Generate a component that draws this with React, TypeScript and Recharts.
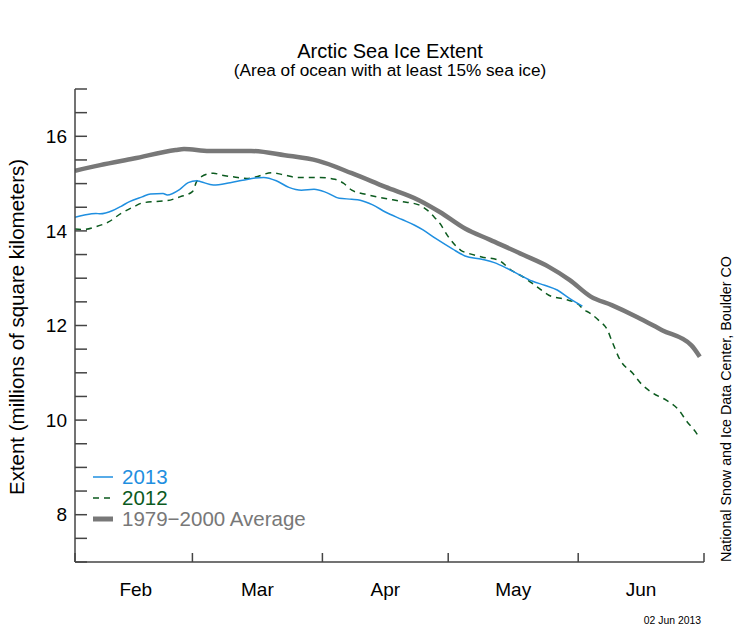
import { LineChart, Line, XAxis, YAxis, Legend, Customized } from "recharts";

// day 0 = 1 Feb
const monthNames = ["Feb", "Mar", "Apr", "May", "Jun"];
const monthStarts = [0, 28, 59, 89, 120, 150];
const monthMids = [14.5, 43.5, 74, 104.5, 135];

const yTicks = [7, 7.5, 8, 8.5, 9, 9.5, 10, 10.5, 11, 11.5, 12, 12.5, 13, 13.5, 14, 14.5, 15, 15.5, 16, 16.5, 17];
const yLabelTicks = [8, 10, 12, 14, 16];

const avgDays = [0, 6, 14, 24, 26, 32, 42, 50, 58, 66, 74, 82, 87, 93, 99, 107, 113, 118, 123, 128, 134, 140, 147, 149];
const avgExtent = [15.27, 15.39, 15.53, 15.71, 15.73, 15.69, 15.69, 15.6, 15.48, 15.22, 14.93, 14.65, 14.4, 14.05, 13.81, 13.49, 13.24, 12.96, 12.61, 12.43, 12.18, 11.9, 11.58, 11.34];

const days2012 = [0, 2, 5, 8, 11, 14, 16, 19, 22, 25, 28, 29, 30, 33, 35, 38, 41, 43, 47, 50, 53, 58, 62, 64, 66, 69, 72, 75, 78, 82, 84, 86, 87, 89, 92, 94, 97, 101, 104, 107, 110, 113, 117, 120, 121, 123, 125, 127, 128, 130, 133, 135, 138, 141, 144, 146, 148, 149];
const extent2012 = [14.04, 14.03, 14.09, 14.19, 14.37, 14.51, 14.59, 14.62, 14.64, 14.72, 14.83, 15.04, 15.14, 15.22, 15.18, 15.14, 15.11, 15.14, 15.23, 15.18, 15.13, 15.13, 15.09, 15.01, 14.86, 14.78, 14.72, 14.67, 14.62, 14.55, 14.44, 14.26, 14.16, 13.88, 13.59, 13.52, 13.45, 13.38, 13.17, 13.02, 12.83, 12.64, 12.55, 12.45, 12.36, 12.25, 12.1, 11.9, 11.68, 11.27, 10.99, 10.77, 10.56, 10.42, 10.21, 9.96, 9.75, 9.61];

const days2013 = [0, 2, 5, 6, 9, 11, 13, 16, 18, 21, 22, 25, 27, 29, 30, 33, 37, 40, 43, 45, 48, 51, 54, 57, 60, 63, 66, 68, 71, 74, 78, 81, 83, 86, 90, 93, 97, 100, 103, 106, 109, 112, 115, 118, 121];
const extent2013 = [14.29, 14.33, 14.37, 14.36, 14.43, 14.52, 14.62, 14.72, 14.78, 14.79, 14.76, 14.88, 15.02, 15.06, 15.04, 14.97, 15.02, 15.07, 15.12, 15.13, 15.06, 14.92, 14.86, 14.88, 14.81, 14.69, 14.67, 14.65, 14.55, 14.4, 14.24, 14.12, 14.02, 13.84, 13.62, 13.47, 13.4, 13.33, 13.21, 13.07, 12.94, 12.85, 12.75, 12.57, 12.41];

const toPoints = (days: number[], vals: number[]) => days.map((d, i) => ({ day: d, value: vals[i] }));

const FONT = "'Liberation Sans', Arial, Helvetica, sans-serif";
const AXIS = "#444";

const series = [
  { name: "2013", color: "#1f8fe0", width: 1.5, dash: undefined as string | undefined },
  { name: "2012", color: "#0b5a1e", width: 1.5, dash: "6 5" },
  { name: "1979\u22122000 Average", color: "#787878", width: 4.5, dash: undefined as string | undefined },
];

function LegendBox() {
  return (
    <div style={{ fontFamily: FONT, fontSize: 20.5, lineHeight: "21px" }}>
      {series.map((s) => (
        <div key={s.name} style={{ display: "flex", alignItems: "center", color: s.color }}>
          <svg width={30} height={21}>
            <line x1={1} x2={21} y1={11} y2={11} stroke={s.color} strokeWidth={s.width === 4.5 ? 5 : 1.5} strokeDasharray={s.dash} />
          </svg>
          <span>{s.name}</span>
        </div>
      ))}
    </div>
  );
}

function Texts() {
  return (
    <g fontFamily={FONT}>
      <text x={390} y={58} textAnchor="middle" fontSize={20} fill="#000">Arctic Sea Ice Extent</text>
      <text x={390} y={76} textAnchor="middle" fontSize={17.2} fill="#000">(Area of ocean with at least 15% sea ice)</text>
      <text x={0} y={0} transform="translate(24,327) rotate(-90)" textAnchor="middle" fontSize={20.5} fill="#000">
        Extent (millions of square kilometers)
      </text>
      <text x={0} y={0} transform="translate(731,562) rotate(-90)" textAnchor="start" fontSize={14.3} fill="#000">
        National Snow and Ice Data Center, Boulder CO
      </text>
      <text x={701} y={624} textAnchor="end" fontSize={10.4} fill="#000">02 Jun 2013</text>
    </g>
  );
}

export default function App() {
  return (
    <div style={{ position: "absolute", left: 0, top: 0, width: 744, height: 640, background: "#fff" }}>
      <LineChart width={744} height={640} margin={{ top: 89, right: 40, left: 15, bottom: 0 }}>
        <XAxis
          xAxisId="a"
          type="number"
          dataKey="day"
          domain={[0, 150]}
          ticks={monthStarts}
          interval={0}
          allowDataOverflow
          tickFormatter={() => ""}
          tickSize={-9}
          tickMargin={0}
          height={1}
          axisLine={{ stroke: AXIS, strokeWidth: 1.5 }}
          tickLine={{ stroke: AXIS, strokeWidth: 1.5 }}
        />
        <XAxis
          xAxisId="b"
          type="number"
          dataKey="day"
          domain={[0, 150]}
          ticks={monthMids}
          allowDataOverflow
          interval={0}
          axisLine={false}
          tickLine={false}
          tickSize={0}
          tickMargin={20}
          height={77}
          tickFormatter={(v: number) => monthNames[monthMids.indexOf(v)] ?? ""}
          tick={{ fill: "#000", fontSize: 19, fontFamily: FONT }}
        />
        <YAxis
          type="number"
          domain={[7, 17]}
          ticks={yTicks}
          interval={0}
          allowDataOverflow
          width={60}
          tickSize={-12}
          tickMargin={20}
          axisLine={{ stroke: AXIS, strokeWidth: 1.5 }}
          tickLine={{ stroke: AXIS, strokeWidth: 1.5 }}
          tickFormatter={(v: number) => (yLabelTicks.includes(v) ? String(v) : "")}
          tick={{ fill: "#000", fontSize: 19, fontFamily: FONT }}
        />
        <Line
          xAxisId="a"
          data={toPoints(avgDays, avgExtent)}
          dataKey="value"
          name={series[2].name}
          type="monotone"
          stroke={series[2].color}
          strokeWidth={series[2].width}
          dot={false}
          isAnimationActive={false}
        />
        <Line
          xAxisId="a"
          data={toPoints(days2012, extent2012)}
          dataKey="value"
          name={series[1].name}
          type="monotone"
          stroke={series[1].color}
          strokeWidth={series[1].width}
          strokeDasharray={series[1].dash}
          dot={false}
          isAnimationActive={false}
        />
        <Line
          xAxisId="a"
          data={toPoints(days2013, extent2013)}
          dataKey="value"
          name={series[0].name}
          type="monotone"
          stroke={series[0].color}
          strokeWidth={series[0].width}
          dot={false}
          isAnimationActive={false}
        />
        <Legend
          layout="vertical"
          align="center"
          verticalAlign="middle"
          wrapperStyle={{ left: 92, top: 466, width: "auto" }}
          content={() => <LegendBox />}
        />
        <Customized component={Texts} />
      </LineChart>
    </div>
  );
}
